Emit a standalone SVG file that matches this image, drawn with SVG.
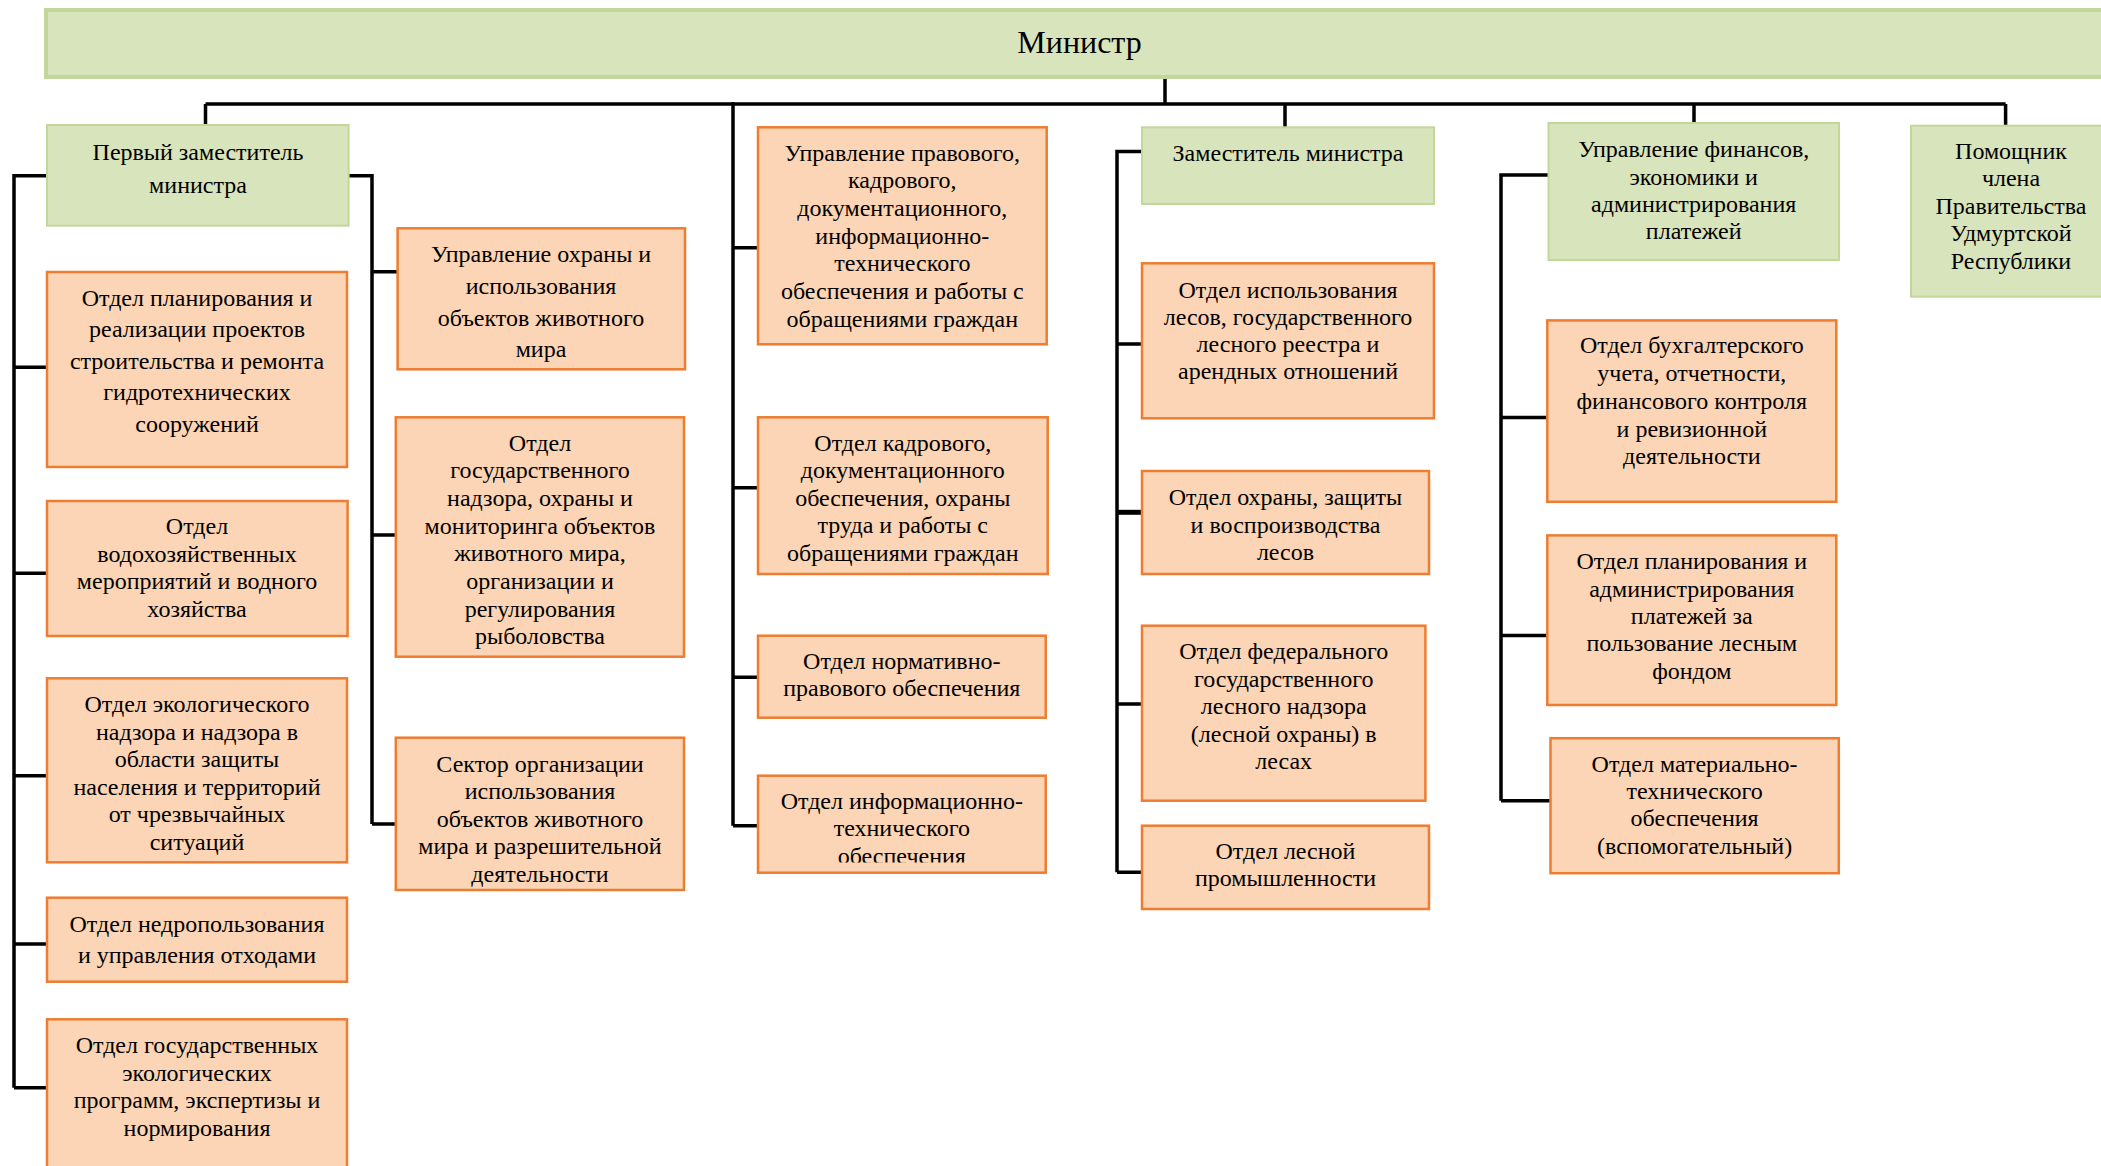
<svg xmlns="http://www.w3.org/2000/svg" width="2101" height="1166" viewBox="0 0 2101 1166">
<style>
.g{fill:#D8E4BC;stroke:#C4D79B;stroke-width:2}
.o{fill:#FBD5B5;stroke:#ED7D31;stroke-width:2.5}
.t{font-family:"Liberation Serif","Times New Roman",serif;font-size:24px;fill:#000;text-anchor:middle}
.c{stroke:#000;stroke-width:3.5;fill:none;stroke-linejoin:miter}
</style>
<defs>
<clipPath id="clip12"><rect x="758" y="775" width="288" height="87.5"/></clipPath>
</defs>
<rect width="2101" height="1166" fill="#fff"/>
<g id="connectors">
<path class="c" d="M1165 77V104M205.5 104H2005.6M205.5 104V125M733 102V825.7M1285 104V127M1694 104V123M2005.6 104V125.7"/>
<path class="c" d="M47 175.7H14V1087.7M14 367.3H47M14 573.3H47M14 775.7H47M14 944H47M14 1087.7H47"/>
<path class="c" d="M348.6 175.7H372V824M372 271.7H397.6M372 535H395.8M372 824H395.8"/>
<path class="c" d="M733 247.7H758M733 487.7H758M733 677.3H758M733 825.7H758"/>
<path class="c" d="M1142 151.5H1117V872.3M1117 344H1142M1117 704H1142M1117 872.3H1142"/>
<path class="c" d="M1117 512.3H1142" style="stroke-width:5"/>
<path class="c" d="M1548.5 175H1501V800.8M1501 417.4H1547.3M1501 635.6H1547.3M1501 800.8H1550.5"/>
</g>
<g id="minister">
<rect x="46" y="10" width="2090" height="67" fill="#D8E4BC" stroke="#C4D79B" stroke-width="4"/>
<text class="t" x="1079.5" y="53" style="font-size:32px">Министр</text>
</g>
<g id="first-deputy">
<rect class="g" x="47" y="125" width="301.6" height="100.7"/>
<text class="t"><tspan x="198" y="160">Первый заместитель</tspan><tspan x="198" y="192.5">министра</tspan></text>
</g>
<g id="otdel-planirovaniya-gts">
<rect class="o" x="47" y="272" width="300" height="195"/>
<text class="t"><tspan x="197" y="305.5">Отдел планирования и</tspan><tspan x="197" y="337">реализации проектов</tspan><tspan x="197" y="368.7">строительства и ремонта</tspan><tspan x="197" y="400.3">гидротехнических</tspan><tspan x="197" y="432">сооружений</tspan></text>
</g>
<g id="otdel-vodohoz">
<rect class="o" x="47" y="501" width="300.6" height="135"/>
<text class="t"><tspan x="197" y="534">Отдел</tspan><tspan x="197" y="561.7">водохозяйственных</tspan><tspan x="197" y="589.2">мероприятий и водного</tspan><tspan x="197" y="616.8">хозяйства</tspan></text>
</g>
<g id="otdel-ekonadzor">
<rect class="o" x="47" y="678.3" width="300" height="184"/>
<text class="t"><tspan x="197" y="712">Отдел экологического</tspan><tspan x="197" y="739.5">надзора и надзора в</tspan><tspan x="197" y="767">области защиты</tspan><tspan x="197" y="794.5">населения и территорий</tspan><tspan x="197" y="822">от чрезвычайных</tspan><tspan x="197" y="849.5">ситуаций</tspan></text>
</g>
<g id="otdel-nedra">
<rect class="o" x="47" y="897.7" width="300" height="84"/>
<text class="t"><tspan x="197" y="931.5">Отдел недропользования</tspan><tspan x="197" y="963">и управления отходами</tspan></text>
</g>
<g id="otdel-ekoprogramm">
<rect class="o" x="47" y="1019.3" width="300" height="170"/>
<text class="t"><tspan x="197" y="1053">Отдел государственных</tspan><tspan x="197" y="1080.7">экологических</tspan><tspan x="197" y="1108.3">программ, экспертизы и</tspan><tspan x="197" y="1136">нормирования</tspan></text>
</g>
<g id="upr-ohrany-zhivotnogo-mira">
<rect class="o" x="397.6" y="228.3" width="287.4" height="141"/>
<text class="t"><tspan x="541" y="262">Управление охраны и</tspan><tspan x="541" y="294">использования</tspan><tspan x="541" y="325.5">объектов животного</tspan><tspan x="541" y="357">мира</tspan></text>
</g>
<g id="otdel-gosnadzora-zhivotnogo-mira">
<rect class="o" x="395.8" y="417.3" width="288.2" height="239.4"/>
<text class="t"><tspan x="540" y="450.5">Отдел</tspan><tspan x="540" y="478.2">государственного</tspan><tspan x="540" y="505.9">надзора, охраны и</tspan><tspan x="540" y="533.6">мониторинга объектов</tspan><tspan x="540" y="561.3">животного мира,</tspan><tspan x="540" y="589">организации и</tspan><tspan x="540" y="616.7">регулирования</tspan><tspan x="540" y="644.4">рыболовства</tspan></text>
</g>
<g id="sektor-organizacii">
<rect class="o" x="395.8" y="737.7" width="288.2" height="152.3"/>
<text class="t"><tspan x="540" y="771.5">Сектор организации</tspan><tspan x="540" y="799">использования</tspan><tspan x="540" y="826.5">объектов животного</tspan><tspan x="540" y="854">мира и разрешительной</tspan><tspan x="540" y="881.5">деятельности</tspan></text>
</g>
<g id="upr-pravovogo">
<rect class="o" x="758" y="127.3" width="288.7" height="217"/>
<text class="t"><tspan x="902.3" y="160.5">Управление правового,</tspan><tspan x="902.3" y="188.2">кадрового,</tspan><tspan x="902.3" y="215.9">документационного,</tspan><tspan x="902.3" y="243.6">информационно-</tspan><tspan x="902.3" y="271.3">технического</tspan><tspan x="902.3" y="299">обеспечения и работы с</tspan><tspan x="902.3" y="326.7">обращениями граждан</tspan></text>
</g>
<g id="otdel-kadrovogo">
<rect class="o" x="758" y="417.3" width="289.7" height="156.7"/>
<text class="t"><tspan x="902.8" y="450.5">Отдел кадрового,</tspan><tspan x="902.8" y="478">документационного</tspan><tspan x="902.8" y="505.5">обеспечения, охраны</tspan><tspan x="902.8" y="533">труда и работы с</tspan><tspan x="902.8" y="560.5">обращениями граждан</tspan></text>
</g>
<g id="otdel-normativno">
<rect class="o" x="758" y="635.7" width="287.7" height="82"/>
<text class="t"><tspan x="901.8" y="668.7">Отдел нормативно-</tspan><tspan x="901.8" y="696.2">правового обеспечения</tspan></text>
</g>
<g id="otdel-informacionno">
<rect class="o" x="758" y="775.7" width="287.7" height="97"/>
<text class="t" clip-path="url(#clip12)"><tspan x="901.8" y="808.7">Отдел информационно-</tspan><tspan x="901.8" y="836.2">технического</tspan><tspan x="901.8" y="864">обеспечения</tspan></text>
</g>
<g id="deputy">
<rect class="g" x="1142" y="127.3" width="292" height="76.7"/>
<text class="t" x="1288" y="161">Заместитель министра</text>
</g>
<g id="otdel-ispolzovaniya-lesov">
<rect class="o" x="1142" y="263.3" width="292" height="155"/>
<text class="t"><tspan x="1288" y="297.5">Отдел использования</tspan><tspan x="1288" y="324.7">лесов, государственного</tspan><tspan x="1288" y="352">лесного реестра и</tspan><tspan x="1288" y="379.2">арендных отношений</tspan></text>
</g>
<g id="otdel-ohrany-lesov">
<rect class="o" x="1142" y="471" width="287" height="103"/>
<text class="t"><tspan x="1285.5" y="505">Отдел охраны, защиты</tspan><tspan x="1285.5" y="532.5">и воспроизводства</tspan><tspan x="1285.5" y="560">лесов</tspan></text>
</g>
<g id="otdel-lesnogo-nadzora">
<rect class="o" x="1142" y="625.7" width="283.4" height="175"/>
<text class="t"><tspan x="1283.7" y="659">Отдел федерального</tspan><tspan x="1283.7" y="686.5">государственного</tspan><tspan x="1283.7" y="714">лесного надзора</tspan><tspan x="1283.7" y="741.5">(лесной охраны) в</tspan><tspan x="1283.7" y="769">лесах</tspan></text>
</g>
<g id="otdel-lesnoy-promyshlennosti">
<rect class="o" x="1142" y="825.7" width="287" height="83.3"/>
<text class="t"><tspan x="1285.5" y="858.7">Отдел лесной</tspan><tspan x="1285.5" y="886.2">промышленности</tspan></text>
</g>
<g id="upr-finansov">
<rect class="g" x="1548.5" y="123" width="290.5" height="137"/>
<text class="t"><tspan x="1693.7" y="157">Управление финансов,</tspan><tspan x="1693.7" y="184.5">экономики и</tspan><tspan x="1693.7" y="212">администрирования</tspan><tspan x="1693.7" y="239">платежей</tspan></text>
</g>
<g id="otdel-buhgalterskogo">
<rect class="o" x="1547.3" y="320.4" width="289" height="181.4"/>
<text class="t"><tspan x="1691.8" y="353.4">Отдел бухгалтерского</tspan><tspan x="1691.8" y="381.1">учета, отчетности,</tspan><tspan x="1691.8" y="408.8">финансового контроля</tspan><tspan x="1691.8" y="436.5">и ревизионной</tspan><tspan x="1691.8" y="464.2">деятельности</tspan></text>
</g>
<g id="otdel-platezhey">
<rect class="o" x="1547.3" y="535.4" width="289" height="169.6"/>
<text class="t"><tspan x="1691.8" y="569.4">Отдел планирования и</tspan><tspan x="1691.8" y="596.6">администрирования</tspan><tspan x="1691.8" y="623.9">платежей за</tspan><tspan x="1691.8" y="651.2">пользование лесным</tspan><tspan x="1691.8" y="678.5">фондом</tspan></text>
</g>
<g id="otdel-mto">
<rect class="o" x="1550.5" y="738.2" width="288.3" height="135"/>
<text class="t"><tspan x="1694.6" y="771.5">Отдел материально-</tspan><tspan x="1694.6" y="798.5">технического</tspan><tspan x="1694.6" y="826.2">обеспечения</tspan><tspan x="1694.6" y="854">(вспомогательный)</tspan></text>
</g>
<g id="pomoshnik">
<rect class="g" x="1911" y="125.7" width="210" height="171"/>
<text class="t"><tspan x="2011" y="158.5">Помощник</tspan><tspan x="2011" y="186">члена</tspan><tspan x="2011" y="213.5">Правительства</tspan><tspan x="2011" y="241">Удмуртской</tspan><tspan x="2011" y="268.5">Республики</tspan></text>
</g>
</svg>
